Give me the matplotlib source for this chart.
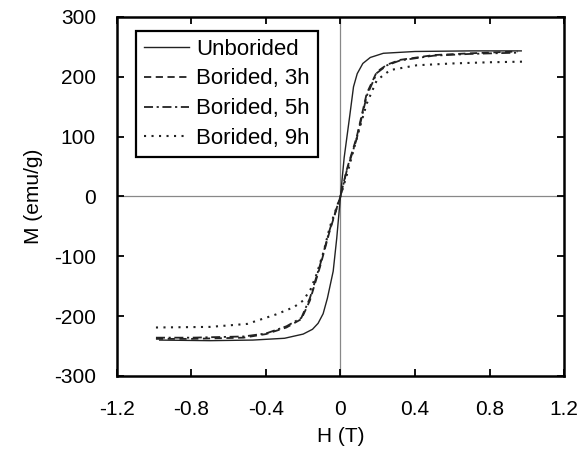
import matplotlib
matplotlib.use("Agg")
import matplotlib.pyplot as plt

plt.rcParams['font.family'] = ['Liberation Sans', 'DejaVu Sans']
plt.rcParams['axes.unicode_minus'] = False

# values (H in T, M in emu/g)
h_unb = [-0.97, -0.7, -0.47, -0.3, -0.2, -0.15, -0.12, -0.093, -0.07, -0.039, -0.02, 0.0,
         0.02, 0.05, 0.07, 0.09, 0.12, 0.16, 0.23, 0.4, 0.7, 0.97]
m_unb = [-240, -241, -240, -237, -230, -222, -212, -196, -170, -125, -70, 0,
         65, 135, 183, 205, 222, 232, 239, 242, 243, 243]

h_3h = [-0.99, -0.8, -0.52, -0.4, -0.29, -0.21, -0.164, -0.11, -0.057, 0.0,
        0.033, 0.087, 0.141, 0.195, 0.25, 0.32, 0.5, 0.7, 0.95]
m_3h = [-238, -238, -236, -230, -219, -205, -174, -118, -57, 0,
        44, 99, 172, 208, 220, 228, 236, 239, 242]

h_5h = h_3h
m_5h = [-236, -236, -234, -229, -217, -203, -170, -115, -55, 0,
        42, 96, 168, 206, 219, 227, 235, 238, 240]

h_9h = [-0.99, -0.7, -0.5, -0.344, -0.25, -0.2, -0.16, -0.128, -0.09, -0.057, 0.0,
        0.04, 0.09, 0.141, 0.195, 0.267, 0.41, 0.6, 0.8, 0.977]
m_9h = [-219, -218, -213, -197, -185, -174, -155, -130, -92, -51, 0,
        42, 100, 155, 194, 211, 219, 222, 224, 225]

x_ticks = [-1.2, -0.8, -0.4, 0, 0.4, 0.8, 1.2]
x_labels = ['-1.2', '-0.8', '-0.4', '0', '0.4', '0.8', '1.2']
y_ticks = [-300, -200, -100, 0, 100, 200, 300]

fig = plt.figure(figsize=(5.87, 4.53), dpi=100)
ax = fig.add_axes([0.199, 0.170, 0.762, 0.793])

ax.axhline(0, color='#888888', lw=0.9, zorder=1)
ax.axvline(0, color='#888888', lw=0.9, zorder=1)

ax.plot(h_unb, m_unb, color='#222222', lw=1.0, ls='-', label='Unborided')
ax.plot(h_3h, m_3h, color='#222222', lw=1.3, ls=(0, (4, 2.5)), label='Borided, 3h')
ax.plot(h_5h, m_5h, color='#222222', lw=1.3, ls=(0, (5, 2, 1.2, 2)), label='Borided, 5h')
ax.plot(h_9h, m_9h, color='#222222', lw=1.5, ls=(0, (1, 2.6)), label='Borided, 9h')

ax.set_xlim(-1.2, 1.2)
ax.set_ylim(-300, 300)
ax.set_xticks(x_ticks)
ax.set_xticklabels(x_labels)
ax.set_yticks(y_ticks)
ax.tick_params(direction='in', length=5, width=1.3, top=True, right=True,
               labelsize=15)
ax.tick_params(axis='x', pad=17)
ax.tick_params(axis='y', pad=15)
for s in ax.spines.values():
    s.set_linewidth(1.8)

ax.set_xlabel('H (T)', fontsize=15, labelpad=6)
ax.set_ylabel('M (emu/g)', fontsize=15, labelpad=8)

leg = ax.legend(loc='upper left', bbox_to_anchor=(0.0425, 0.961), fontsize=16,
                frameon=True, fancybox=False, handlelength=2.05, handletextpad=0.32,
                labelspacing=0.4, borderpad=0.35, borderaxespad=0.0)
leg.get_frame().set_edgecolor('black')
leg.get_frame().set_linewidth(1.6)
leg.get_frame().set_alpha(1)

fig.savefig('out.png', dpi=100)
